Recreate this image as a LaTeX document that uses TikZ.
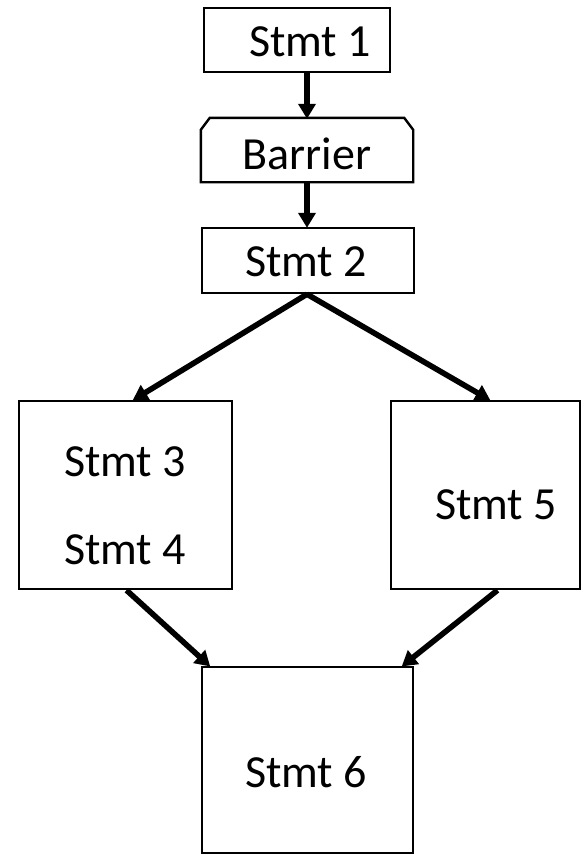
\documentclass[tikz,border=0pt]{standalone}
\usepackage{fontspec}
\setmainfont{Carlito}
\usetikzlibrary{arrows.meta}
\begin{document}
\begin{tikzpicture}[x=1pt,y=-1pt,
  box/.style={draw,line width=2.4pt,inner sep=0pt},
  lbl/.style={inner sep=0pt,font=\fontsize{46}{52}\selectfont},
  flow/.style={line width=5.6pt,-{Triangle[length=15pt,width=17pt]},shorten >=-1pt}]
\useasboundingbox (0,0) rectangle (585,855);
% top chain
\node[box,minimum width=186pt,minimum height=64pt] (s1) at (297,40) {};
\node[lbl] (s1txt) at (310,41.5) {Stmt 1};
\node[inner sep=0pt,minimum width=212pt,minimum height=64pt] (bar) at (307,150) {};
\draw[line width=2.4pt] ([yshift=-12pt]bar.north west) -- ([xshift=9pt]bar.north west)
  -- ([xshift=-9pt]bar.north east) -- ([yshift=-12pt]bar.north east)
  -- (bar.south east) -- (bar.south west) -- cycle;
\node[lbl] (bartxt) at (307,153.5) {Barrier};
\node[box,minimum width=212pt,minimum height=65pt] (s2) at (308,260.5) {};
\node[lbl] (s2txt) at (306,262) {Stmt 2};
% branches
\node[box,minimum width=213pt,minimum height=188pt] (s34) at (125.5,495) {};
\node[lbl] (s3) at (125,462) {Stmt 3};
\node[lbl] (s4) at (125,550) {Stmt 4};
\node[box,minimum width=189pt,minimum height=188pt] (s5) at (485.5,495) {};
\node[lbl] (s5txt) at (496,505) {Stmt 5};
\node[box,minimum width=211pt,minimum height=186pt] (s6) at (307.5,760) {};
\node[lbl] (s6txt) at (306,772) {Stmt 6};
% connectors
\draw[flow] (s1.south -| bar.north) -- (bar.north);
\draw[flow] (bar.south) -- (bar.south |- s2.north);
\coordinate (fork) at ([xshift=-1pt]s2.south);
\draw[flow] (fork) -- ([xshift=8pt]s34.north);
\draw[flow] (fork) -- ([xshift=4pt]s5.north);
\draw[flow] ([xshift=1pt]s34.south) -- ([xshift=-98pt]s6.north);
\draw[flow] ([xshift=12pt]s5.south) -- ([xshift=95pt]s6.north);
\end{tikzpicture}
\end{document}
